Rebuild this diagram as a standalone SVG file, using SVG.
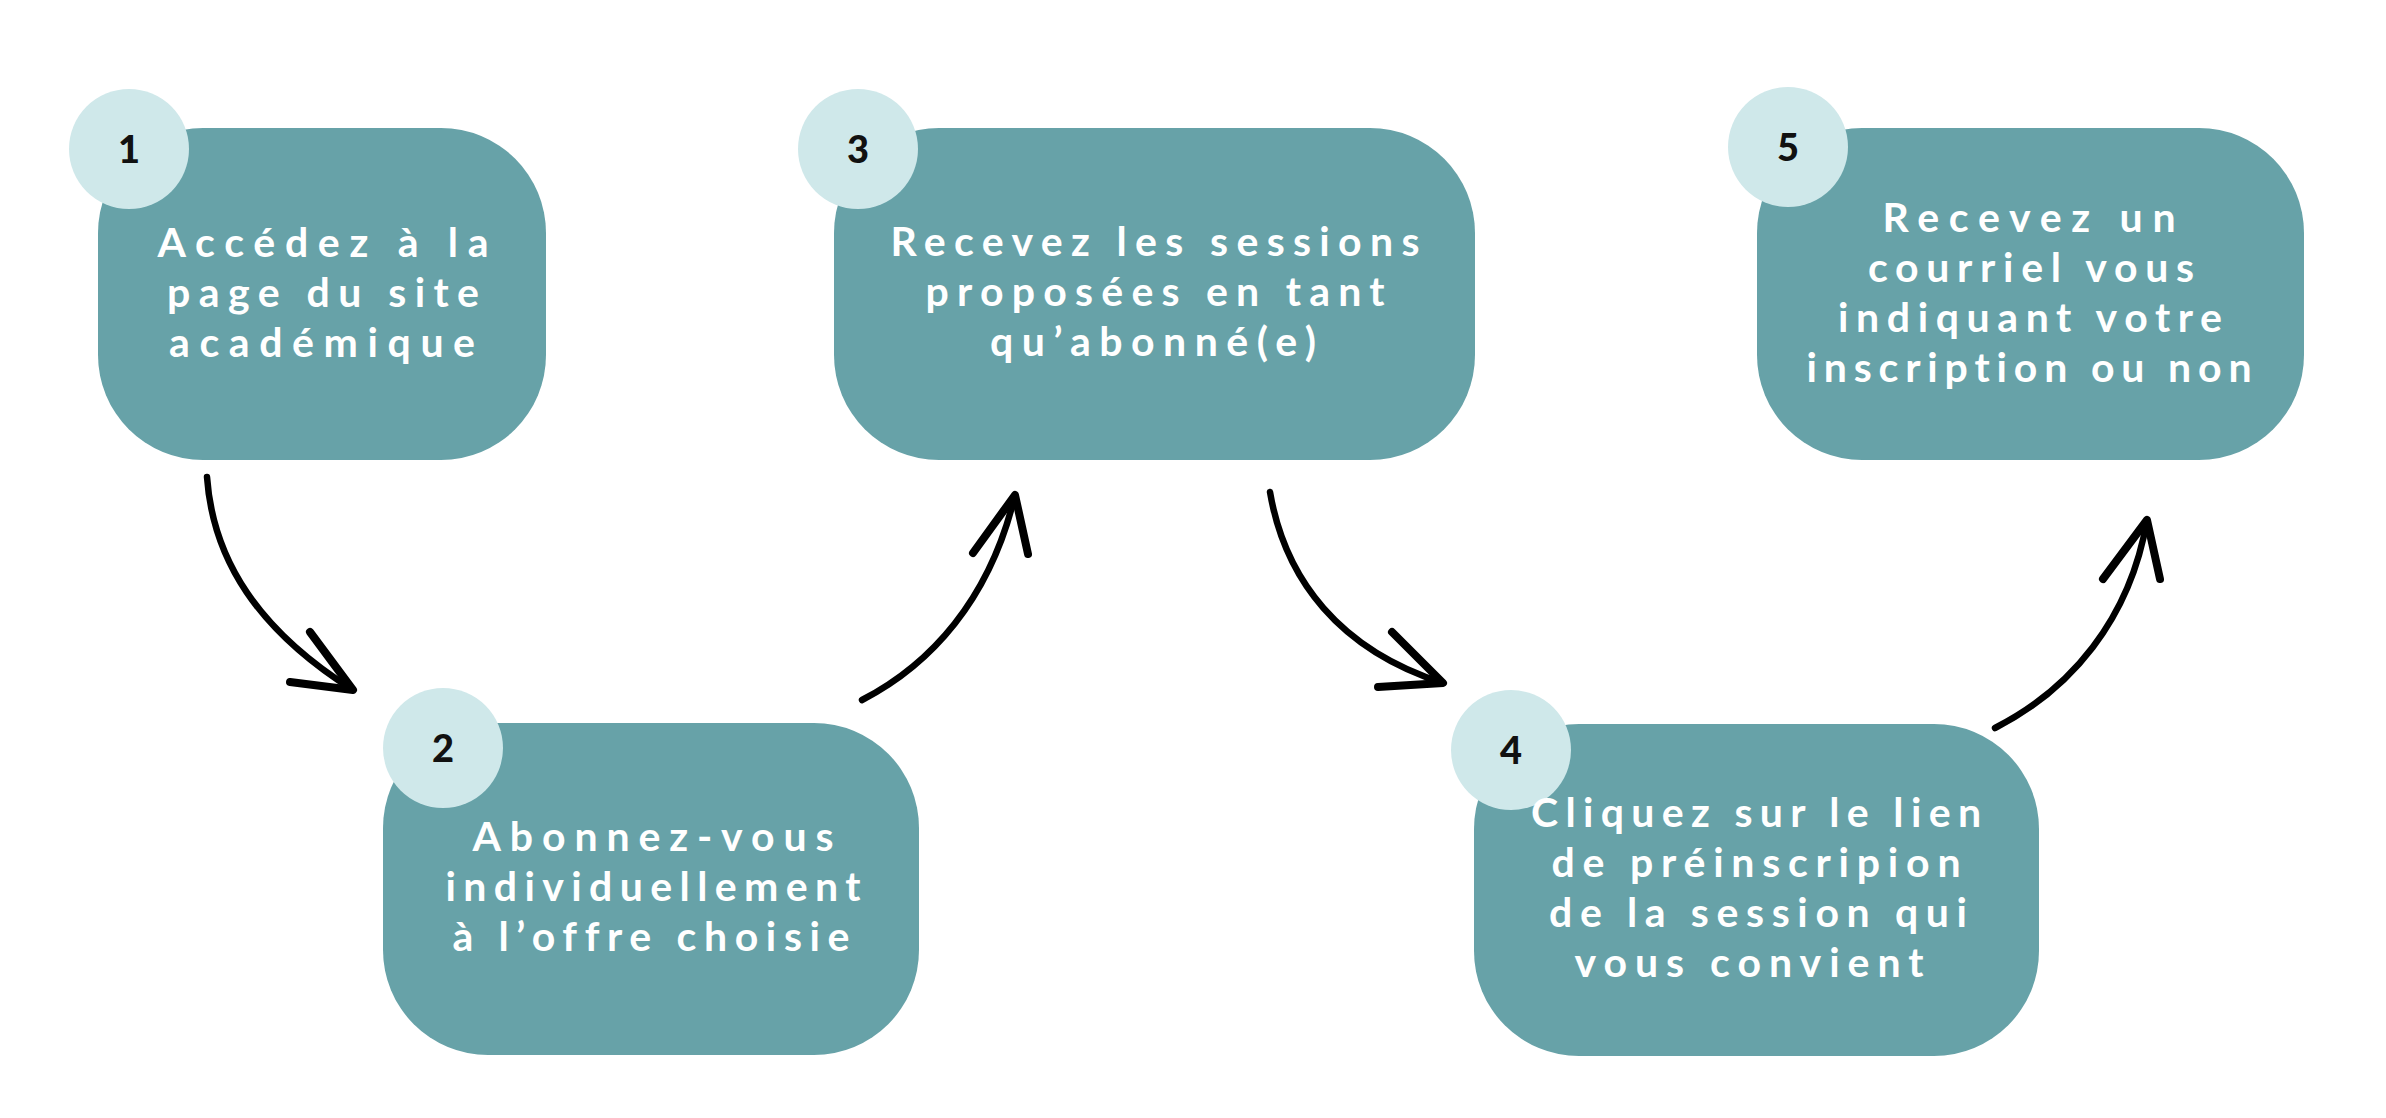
<svg xmlns="http://www.w3.org/2000/svg" width="2386" height="1118" viewBox="0 0 2386 1118">
<style>
.box{fill:#67A2A8}
.badge{fill:#CFE8EA}
.num{font-family:Lato,"Noto Sans",sans-serif;font-weight:900;font-size:38px;fill:#111;text-anchor:middle}
.lbl{font-family:Lato,"Noto Sans",sans-serif;font-weight:700;font-size:41px;fill:#fff;text-anchor:middle;font-variant-ligatures:none;font-feature-settings:"liga" 0,"clig" 0}
.shaft{fill:none;stroke:#000;stroke-width:6.5;stroke-linecap:round}
.head{fill:none;stroke:#000;stroke-width:8;stroke-linecap:round;stroke-linejoin:round}
</style>
<rect width="2386" height="1118" fill="#fff"/>
<g id="connectors">
<path class="shaft" d="M207,477 C213,560 258,630 353,690"/>
<path class="head" d="M310,632 L353,690 L290,682"/>
<path class="shaft" d="M862,700 C930,665 990,600 1015,495"/>
<path class="head" d="M973,553 L1015,495 L1028,554"/>
<path class="shaft" d="M1270,492 C1285,580 1340,650 1443,683"/>
<path class="head" d="M1392,632 L1443,683 L1378,687"/>
<path class="shaft" d="M1995,728 C2070,690 2130,620 2147,520"/>
<path class="head" d="M2103,579 L2147,520 L2160,579"/>
</g>
<g id="node1">
<rect class="box" x="98" y="128" width="448" height="332" rx="105" ry="105"/>
<circle class="badge" cx="129" cy="149" r="60"/>
<text class="num" x="129" y="163">1</text>
<text class="lbl" x="323" y="257" textLength="331" lengthAdjust="spacing">Accédez à la</text>
<text class="lbl" x="323" y="307" textLength="312" lengthAdjust="spacing">page du site</text>
<text class="lbl" x="322" y="357" textLength="306" lengthAdjust="spacing">académique</text>
</g>
<g id="node2">
<rect class="box" x="383" y="723" width="536" height="332" rx="105" ry="105"/>
<circle class="badge" cx="443" cy="748" r="60"/>
<text class="num" x="443" y="762">2</text>
<text class="lbl" x="653" y="851" textLength="361" lengthAdjust="spacing">Abonnez-vous</text>
<text class="lbl" x="653" y="901" textLength="415" lengthAdjust="spacing">individuellement</text>
<text class="lbl" x="651" y="951" textLength="397" lengthAdjust="spacing">à l’offre choisie</text>
</g>
<g id="node3">
<rect class="box" x="834" y="128" width="641" height="332" rx="105" ry="105"/>
<circle class="badge" cx="858" cy="149" r="60"/>
<text class="num" x="858" y="163">3</text>
<text class="lbl" x="1155" y="256" textLength="529" lengthAdjust="spacing">Recevez les sessions</text>
<text class="lbl" x="1155" y="306" textLength="459" lengthAdjust="spacing">proposées en tant</text>
<text class="lbl" x="1153" y="356" textLength="326" lengthAdjust="spacing">qu’abonné(e)</text>
</g>
<g id="node4">
<rect class="box" x="1474" y="724" width="565" height="332" rx="105" ry="105"/>
<circle class="badge" cx="1511" cy="750" r="60"/>
<text class="num" x="1511" y="764">4</text>
<text class="lbl" x="1756" y="827" textLength="450" lengthAdjust="spacing">Cliquez sur le lien</text>
<text class="lbl" x="1756" y="877" textLength="409" lengthAdjust="spacing">de préinscripion</text>
<text class="lbl" x="1758" y="927" textLength="418" lengthAdjust="spacing">de la session qui</text>
<text class="lbl" x="1749" y="977" textLength="349" lengthAdjust="spacing">vous convient</text>
</g>
<g id="node5">
<rect class="box" x="1757" y="128" width="547" height="332" rx="105" ry="105"/>
<circle class="badge" cx="1788" cy="147" r="60"/>
<text class="num" x="1788" y="161">5</text>
<text class="lbl" x="2029" y="232" textLength="293" lengthAdjust="spacing">Recevez un</text>
<text class="lbl" x="2031" y="282" textLength="326" lengthAdjust="spacing">courriel vous</text>
<text class="lbl" x="2030" y="332" textLength="384" lengthAdjust="spacing">indiquant votre</text>
<text class="lbl" x="2029" y="382" textLength="445" lengthAdjust="spacing">inscription ou non</text>
</g>
</svg>
